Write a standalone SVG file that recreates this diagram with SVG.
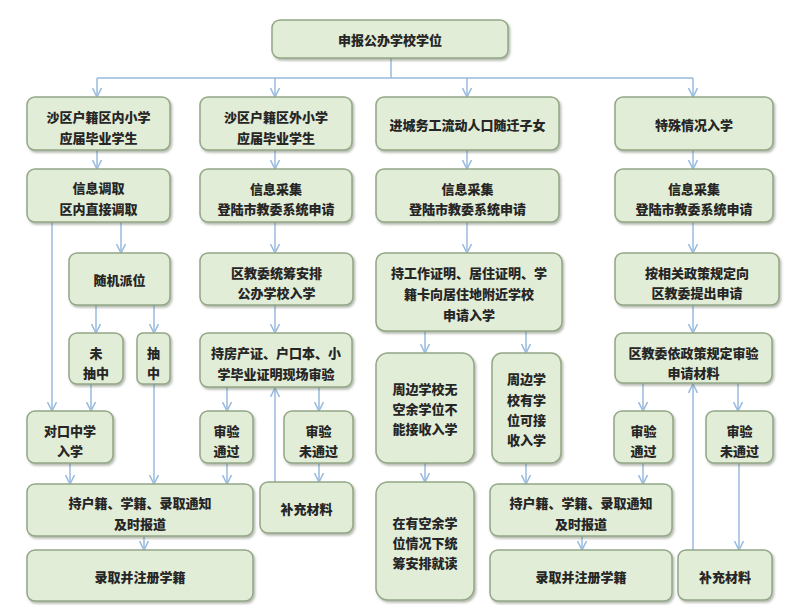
<svg xmlns="http://www.w3.org/2000/svg" width="800" height="609" viewBox="0 0 800 609">
<defs>
<style>
.box{fill:#e2edd7;stroke:#93a686;stroke-width:1.5;filter:url(#sh)}
.t{font-family:"Noto Sans CJK SC","Noto Sans",sans-serif;font-size:13px;font-weight:900;fill:#262626;text-anchor:middle;dominant-baseline:central}
.c{fill:none;stroke:#98bbdf;stroke-width:1.5}
.a{marker-end:url(#arr)}
</style>
<filter id="sh" x="-10%" y="-10%" width="130%" height="140%">
<feDropShadow dx="1.5" dy="2" stdDeviation="1.2" flood-color="#5a6650" flood-opacity="0.45"/>
</filter>
<marker id="arr" viewBox="0 0 10 10" refX="9" refY="5" markerWidth="10" markerHeight="10" markerUnits="userSpaceOnUse" orient="auto">
<path d="M0,0.5 L9,5 L0,9.5" fill="none" stroke="#98bbdf" stroke-width="1.5"/>
</marker>
</defs>
<rect width="800" height="609" fill="#ffffff"/>

<g id="connectors">
<path class="c" d="M391,58 V78 M97,78 H693"/>
<path class="c a" d="M97,78 V97"/>
<path class="c a" d="M275,78 V97"/>
<path class="c a" d="M467,78 V97"/>
<path class="c a" d="M693,78 V97"/>
<path class="c a" d="M97,150 V169"/>
<path class="c a" d="M275,150 V169"/>
<path class="c a" d="M467,150 V169"/>
<path class="c a" d="M693,150 V169"/>
<path class="c a" d="M121,222 V253"/>
<path class="c a" d="M52,222 V411"/>
<path class="c a" d="M275,222 V253"/>
<path class="c a" d="M467,222 V253"/>
<path class="c a" d="M693,222 V253"/>
<path class="c a" d="M96,305 V333"/>
<path class="c a" d="M154,305 V333"/>
<path class="c a" d="M275,305 V333"/>
<path class="c a" d="M425,331 V353"/>
<path class="c a" d="M526,331 V353"/>
<path class="c a" d="M693,305 V333"/>
<path class="c a" d="M91,384 V411"/>
<path class="c a" d="M154,384 V484"/>
<path class="c a" d="M227,387 V411"/>
<path class="c a" d="M319,387 V411"/>
<path class="c a" d="M275,482 V388"/>
<path class="c a" d="M643,383 V411"/>
<path class="c a" d="M738,383 V411"/>
<path class="c a" d="M693,550 V384"/>
<path class="c a" d="M70,463 V484"/>
<path class="c a" d="M227,463 V484"/>
<path class="c a" d="M319,463 V482"/>
<path class="c a" d="M425,463 V482"/>
<path class="c a" d="M526,463 V484"/>
<path class="c a" d="M643,463 V484"/>
<path class="c a" d="M739,463 V550"/>
<path class="c a" d="M144,536 V550"/>
<path class="c a" d="M582,536 V550"/>
</g>

<g id="n-top"><rect class="box" x="272" y="20" width="236" height="38" rx="8"/><text class="t" x="390" y="39">申报公办学校学位</text></g>

<g id="n-a1"><rect class="box" x="27" y="97" width="143" height="53" rx="8"/><text class="t" x="98.5" y="116">沙区户籍区内小学</text><text class="t" x="98.5" y="137">应届毕业学生</text></g>
<g id="n-b1"><rect class="box" x="200" y="97" width="152" height="53" rx="8"/><text class="t" x="276" y="116">沙区户籍区外小学</text><text class="t" x="276" y="137">应届毕业学生</text></g>
<g id="n-c1"><rect class="box" x="376" y="97" width="183" height="53" rx="8"/><text class="t" x="467.5" y="124">进城务工流动人口随迁子女</text></g>
<g id="n-d1"><rect class="box" x="615" y="97" width="158" height="53" rx="8"/><text class="t" x="694" y="124">特殊情况入学</text></g>

<g id="n-a2"><rect class="box" x="27" y="169" width="143" height="53" rx="8"/><text class="t" x="98.5" y="187">信息调取</text><text class="t" x="98.5" y="208">区内直接调取</text></g>
<g id="n-b2"><rect class="box" x="200" y="169" width="152" height="53" rx="8"/><text class="t" x="276" y="188">信息采集</text><text class="t" x="276" y="208">登陆市教委系统申请</text></g>
<g id="n-c2"><rect class="box" x="376" y="169" width="183" height="53" rx="8"/><text class="t" x="467.5" y="188">信息采集</text><text class="t" x="467.5" y="208">登陆市教委系统申请</text></g>
<g id="n-d2"><rect class="box" x="615" y="169" width="158" height="53" rx="8"/><text class="t" x="694" y="188">信息采集</text><text class="t" x="694" y="208">登陆市教委系统申请</text></g>

<g id="n-a3"><rect class="box" x="69" y="253" width="101" height="52" rx="8"/><text class="t" x="119.5" y="279">随机派位</text></g>
<g id="n-b3"><rect class="box" x="200" y="253" width="153" height="52" rx="8"/><text class="t" x="276.5" y="272">区教委统筹安排</text><text class="t" x="276.5" y="292">公办学校入学</text></g>
<g id="n-c3"><rect class="box" x="376" y="253" width="186" height="78" rx="9"/><text class="t" x="469" y="272">持工作证明、居住证明、学</text><text class="t" x="469" y="293">籍卡向居住地附近学校</text><text class="t" x="469" y="314">申请入学</text></g>
<g id="n-d3"><rect class="box" x="615" y="253" width="164" height="52" rx="8"/><text class="t" x="697" y="272">按相关政策规定向</text><text class="t" x="697" y="292">区教委提出申请</text></g>

<g id="n-a4a"><rect class="box" x="69" y="333" width="54" height="51" rx="8"/><text class="t" x="96" y="352">未</text><text class="t" x="96" y="372">抽中</text></g>
<g id="n-a4b"><rect class="box" x="137" y="333" width="33" height="51" rx="6"/><text class="t" x="153.5" y="352">抽</text><text class="t" x="153.5" y="372">中</text></g>
<g id="n-b4"><rect class="box" x="200" y="333" width="152" height="54" rx="8"/><text class="t" x="276" y="352">持房产证、户口本、小</text><text class="t" x="276" y="373">学毕业证明现场审验</text></g>
<g id="n-c4a"><rect class="box" x="376" y="353" width="98" height="110" rx="12"/><text class="t" x="425" y="388">周边学校无</text><text class="t" x="425" y="408">空余学位不</text><text class="t" x="425" y="428">能接收入学</text></g>
<g id="n-c4b"><rect class="box" x="492" y="353" width="69" height="110" rx="10"/><text class="t" x="526.5" y="378">周边学</text><text class="t" x="526.5" y="399">校有学</text><text class="t" x="526.5" y="419">位可接</text><text class="t" x="526.5" y="439">收入学</text></g>
<g id="n-d4"><rect class="box" x="615" y="333" width="157" height="50" rx="8"/><text class="t" x="693.5" y="352">区教委依政策规定审验</text><text class="t" x="693.5" y="372">申请材料</text></g>

<g id="n-a5"><rect class="box" x="27" y="411" width="86" height="52" rx="8"/><text class="t" x="70" y="430">对口中学</text><text class="t" x="70" y="450">入学</text></g>
<g id="n-b5a"><rect class="box" x="200" y="411" width="53" height="52" rx="8"/><text class="t" x="226.5" y="430">审验</text><text class="t" x="226.5" y="450">通过</text></g>
<g id="n-b5b"><rect class="box" x="284" y="411" width="69" height="52" rx="8"/><text class="t" x="318.5" y="430">审验</text><text class="t" x="318.5" y="450">未通过</text></g>
<g id="n-d5a"><rect class="box" x="614" y="411" width="59" height="52" rx="8"/><text class="t" x="643.5" y="430">审验</text><text class="t" x="643.5" y="450">通过</text></g>
<g id="n-d5b"><rect class="box" x="706" y="411" width="67" height="52" rx="8"/><text class="t" x="739.5" y="430">审验</text><text class="t" x="739.5" y="450">未通过</text></g>

<g id="n-a6"><rect class="box" x="27" y="484" width="226" height="52" rx="8"/><text class="t" x="140" y="502">持户籍、学籍、录取通知</text><text class="t" x="140" y="523">及时报道</text></g>
<g id="n-b6"><rect class="box" x="260" y="482" width="93" height="51" rx="8"/><text class="t" x="306.5" y="508">补充材料</text></g>
<g id="n-c6"><rect class="box" x="376" y="482" width="98" height="118" rx="12"/><text class="t" x="425" y="522">在有空余学</text><text class="t" x="425" y="542">位情况下统</text><text class="t" x="425" y="562">筹安排就读</text></g>
<g id="n-c6b"><rect class="box" x="490" y="484" width="182" height="52" rx="8"/><text class="t" x="581" y="502">持户籍、学籍、录取通知</text><text class="t" x="581" y="523">及时报道</text></g>

<g id="n-a7"><rect class="box" x="27" y="550" width="226" height="51" rx="8"/><text class="t" x="140" y="576">录取并注册学籍</text></g>
<g id="n-c7"><rect class="box" x="490" y="550" width="182" height="51" rx="8"/><text class="t" x="581" y="576">录取并注册学籍</text></g>
<g id="n-d7"><rect class="box" x="678" y="550" width="94" height="50" rx="8"/><text class="t" x="725" y="576">补充材料</text></g>
</svg>
